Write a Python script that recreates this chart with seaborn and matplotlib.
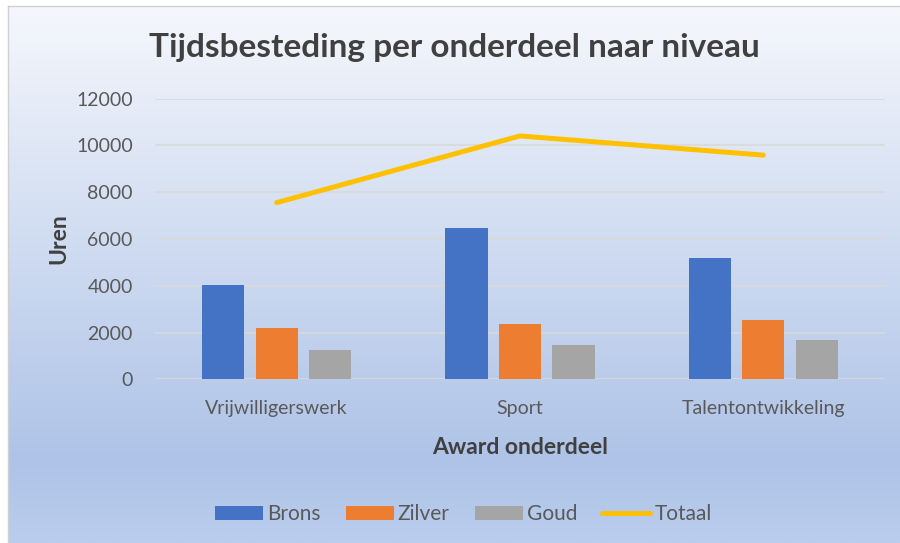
import numpy as np
import pandas as pd
import matplotlib
matplotlib.use("Agg")
import matplotlib.pyplot as plt
from matplotlib.colors import LinearSegmentedColormap
from matplotlib.patches import Patch
from matplotlib.lines import Line2D
import seaborn as sns

categories = ["Vrijwilligerswerk", "Sport", "Talentontwikkeling"]
brons = [4050, 6470, 5170]
zilver = [2200, 2360, 2520]
goud = [1240, 1450, 1690]
totaal = [7550, 10400, 9580]
series_names = ["Brons", "Zilver", "Goud"]
yticks = [0, 2000, 4000, 6000, 8000, 10000, 12000]

colors = ["#4472C4", "#ED7D31", "#A5A5A5"]
line_color = "#FFC000"
text_color = "#595959"

sns.set_theme(style="white")
plt.rcParams["font.family"] = ["Lato", "DejaVu Sans"]

df = pd.DataFrame({
    "Onderdeel": categories * 3,
    "Niveau": [s for s in series_names for _ in categories],
    "Uren": brons + zilver + goud,
})
df_tot = pd.DataFrame({"Onderdeel": categories, "Totaal": totaal})

fig = plt.figure(figsize=(9, 5.43), dpi=100)
fig.patch.set_facecolor("white")

# gradient background panel
bg = fig.add_axes([8 / 900, 0, 1 - 8 / 900, 1 - 6 / 543], zorder=0)
cmap = LinearSegmentedColormap.from_list(
    "bg", [(0, "#F5F7FC"), (0.85, "#AEC3E7"), (1.0, "#BACDED")])
grad = np.linspace(0, 1, 256).reshape(-1, 1)
bg.imshow(grad, aspect="auto", cmap=cmap, extent=[0, 1, 0, 1], origin="upper")
bg.set_xticks([]); bg.set_yticks([])
for s in bg.spines.values():
    s.set_color("#D0D0D0"); s.set_linewidth(1)
bg.spines["right"].set_visible(False)
bg.spines["bottom"].set_visible(False)

ax = fig.add_axes([155 / 900, 1 - 379.3 / 543, 730 / 900, (379.3 - 98.5) / 543], zorder=1)
ax.set_facecolor("none")

sns.barplot(data=df, x="Onderdeel", y="Uren", hue="Niveau", hue_order=series_names,
            palette=colors, width=0.66, gap=0.21, saturation=1, ax=ax,
            legend=False, zorder=3, linewidth=0)
sns.pointplot(data=df_tot, x="Onderdeel", y="Totaal", color=line_color,
              markers="", linewidth=3.6, ax=ax, zorder=4)
for l in ax.lines:
    l.set_solid_capstyle("round")

ax.set_ylim(0, 12000)
ax.set_xlim(-0.5, 2.5)
ax.set_yticks(yticks)
ax.set_yticklabels([str(v) for v in yticks])
ax.yaxis.grid(True, color="#D9D9D9", linewidth=1.2)
ax.set_axisbelow(True)
for s in ax.spines.values():
    s.set_visible(False)
ax.tick_params(axis="both", length=0, labelsize=14, labelcolor=text_color)
ax.tick_params(axis="y", pad=16)
ax.tick_params(axis="x", pad=15)

ax.set_ylabel("Uren", fontsize=16.5, fontweight="bold", color="#404040", labelpad=5)
ax.set_xlabel("Award onderdeel", fontsize=16.5, fontweight="bold", color="#404040", labelpad=14)

fig.text(0.505, 1 - 48 / 543, "Tijdsbesteding per onderdeel naar niveau",
         ha="center", va="center", fontsize=24, fontweight="bold", color="#404040")

handles = [Patch(facecolor=c, edgecolor="none") for c in colors]
handles.append(Line2D([0], [0], color=line_color, linewidth=3.5))
fig.legend(handles, series_names + ["Totaal"], loc="center",
           bbox_to_anchor=(0.515, 1 - 514 / 543), ncol=4, frameon=False,
           fontsize=15, labelcolor=text_color, handlelength=2.3, handleheight=0.65,
           handletextpad=0.2, columnspacing=1.2)

fig.savefig("out.png", dpi=100)
